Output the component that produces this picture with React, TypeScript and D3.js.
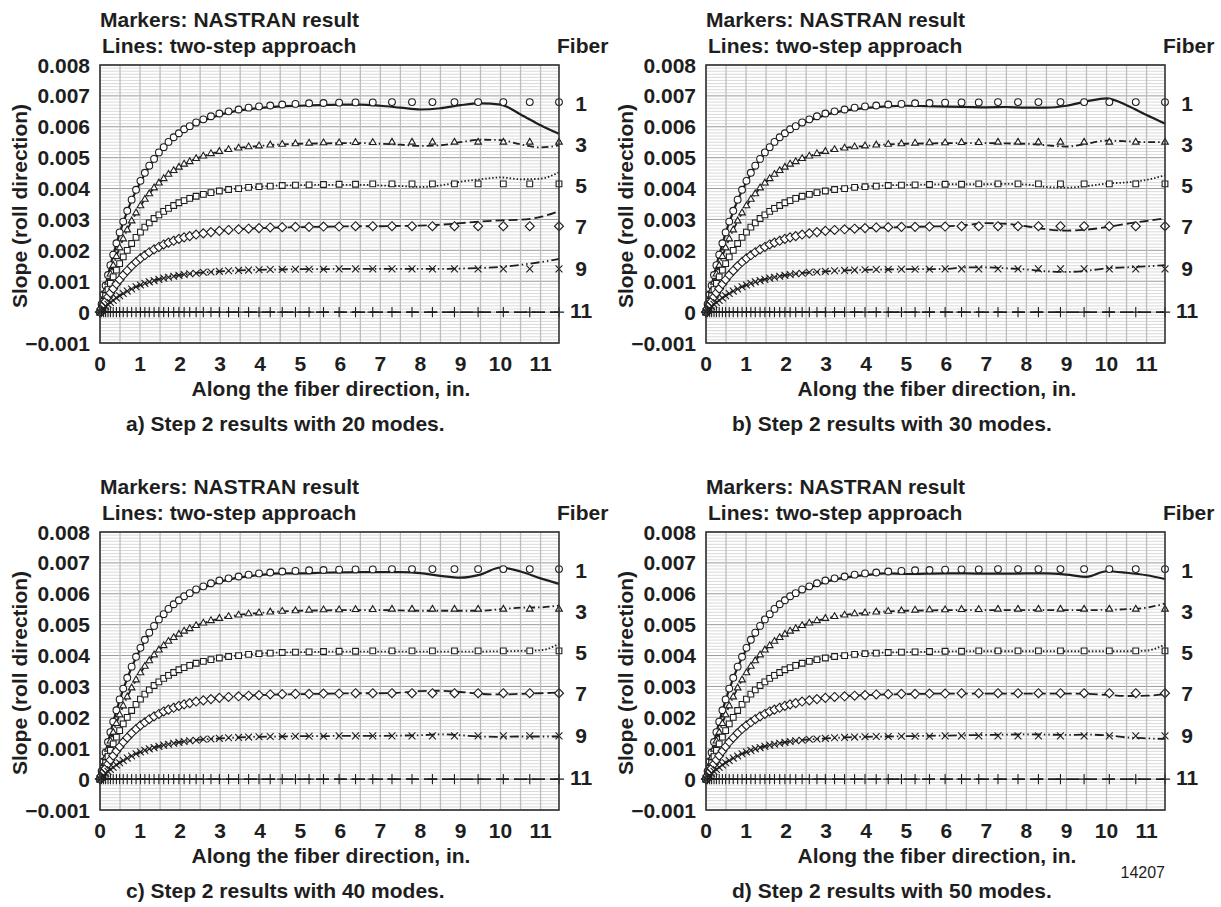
import React from "react";
import * as d3 from "d3";

const W = 1221;
const H = 907;

// NASTRAN node positions along the fiber, in.
const NASTRAN_X = [
  0, 0.04, 0.09, 0.14, 0.2, 0.26, 0.33, 0.41, 0.49, 0.58,
  0.68, 0.79, 0.9, 1.01, 1.12, 1.23, 1.35, 1.47, 1.59, 1.71,
  1.84, 1.97, 2.1, 2.24, 2.4, 2.58, 2.77, 2.98, 3.21, 3.46,
  3.71, 3.97, 4.25, 4.55, 4.88, 5.22, 5.58, 5.97, 6.38, 6.81,
  7.29, 7.79, 8.3, 8.85, 9.44, 10.07, 10.73, 11.46,
];

// NASTRAN slope per fiber (units of 0.001)
const NASTRAN_F1 = [
  0, 0.26, 0.57, 0.86, 1.2, 1.52, 1.86, 2.23, 2.58, 2.93,
  3.28, 3.64, 3.96, 4.25, 4.51, 4.74, 4.96, 5.17, 5.34, 5.51,
  5.66, 5.79, 5.92, 6.02, 6.14, 6.24, 6.34, 6.43, 6.5, 6.56,
  6.62, 6.66, 6.69, 6.72, 6.74, 6.76, 6.77, 6.78, 6.79, 6.79,
  6.8, 6.8, 6.8, 6.8, 6.8, 6.8, 6.8, 6.8,
];
const NASTRAN_F3 = [
  0, 0.21, 0.46, 0.7, 0.97, 1.23, 1.51, 1.8, 2.08, 2.37,
  2.66, 2.95, 3.21, 3.44, 3.65, 3.83, 4.02, 4.18, 4.32, 4.46,
  4.58, 4.69, 4.79, 4.87, 4.97, 5.05, 5.13, 5.2, 5.26, 5.31,
  5.35, 5.38, 5.41, 5.43, 5.45, 5.47, 5.48, 5.48, 5.49, 5.49,
  5.5, 5.5, 5.5, 5.5, 5.5, 5.5, 5.5, 5.5,
];
const NASTRAN_F5 = [
  0, 0.16, 0.35, 0.53, 0.73, 0.93, 1.14, 1.36, 1.57, 1.79,
  2.0, 2.22, 2.42, 2.59, 2.75, 2.89, 3.03, 3.15, 3.26, 3.36,
  3.45, 3.54, 3.61, 3.68, 3.75, 3.81, 3.87, 3.92, 3.97, 4.0,
  4.04, 4.06, 4.08, 4.1, 4.11, 4.12, 4.13, 4.14, 4.14, 4.15,
  4.15, 4.15, 4.15, 4.15, 4.15, 4.15, 4.15, 4.15,
];
const NASTRAN_F7 = [
  0, 0.11, 0.23, 0.35, 0.49, 0.62, 0.76, 0.91, 1.05, 1.2,
  1.34, 1.49, 1.62, 1.74, 1.84, 1.94, 2.03, 2.11, 2.19, 2.25,
  2.31, 2.37, 2.42, 2.46, 2.51, 2.55, 2.59, 2.63, 2.66, 2.68,
  2.7, 2.72, 2.74, 2.75, 2.76, 2.76, 2.77, 2.77, 2.78, 2.78,
  2.78, 2.78, 2.78, 2.78, 2.78, 2.78, 2.78, 2.78,
];
const NASTRAN_F9 = [
  0, 0.05, 0.12, 0.18, 0.25, 0.31, 0.38, 0.46, 0.53, 0.6,
  0.68, 0.75, 0.82, 0.88, 0.93, 0.98, 1.02, 1.06, 1.1, 1.13,
  1.16, 1.19, 1.22, 1.24, 1.26, 1.29, 1.3, 1.32, 1.34, 1.35,
  1.36, 1.37, 1.38, 1.38, 1.39, 1.39, 1.39, 1.4, 1.4, 1.4,
  1.4, 1.4, 1.4, 1.4, 1.4, 1.4, 1.4, 1.4,
];
const NASTRAN_F11 = [
  0, 0, 0, 0, 0, 0, 0, 0, 0, 0,
  0, 0, 0, 0, 0, 0, 0, 0, 0, 0,
  0, 0, 0, 0, 0, 0, 0, 0, 0, 0,
  0, 0, 0, 0, 0, 0, 0, 0, 0, 0,
  0, 0, 0, 0, 0, 0, 0, 0,
];

// two-step approach: rising part (same in all four panels)
const RISE_X = [0, 0.1, 0.2, 0.3, 0.4, 0.5, 0.6, 0.8, 1.0, 1.2, 1.4, 1.6, 1.8, 2.0, 2.25, 2.5, 2.75, 3.0, 3.5, 4.0, 4.5];
const RISE_F1 = [0, 0.62, 1.19, 1.71, 2.17, 2.6, 2.98, 3.65, 4.19, 4.64, 5.02, 5.32, 5.58, 5.78, 5.99, 6.16, 6.28, 6.39, 6.53, 6.61, 6.66];
const RISE_F3 = [0, 0.51, 0.97, 1.39, 1.77, 2.12, 2.43, 2.97, 3.42, 3.78, 4.09, 4.33, 4.54, 4.71, 4.88, 5.02, 5.12, 5.2, 5.32, 5.38, 5.43];
const RISE_F5 = [0, 0.38, 0.73, 1.05, 1.34, 1.6, 1.83, 2.24, 2.58, 2.86, 3.08, 3.27, 3.43, 3.56, 3.68, 3.78, 3.86, 3.93, 4.01, 4.06, 4.1];
const RISE_F7 = [0, 0.26, 0.49, 0.7, 0.9, 1.07, 1.23, 1.5, 1.73, 1.91, 2.07, 2.19, 2.3, 2.38, 2.47, 2.54, 2.59, 2.63, 2.69, 2.72, 2.74];
const RISE_F9 = [0, 0.13, 0.25, 0.35, 0.45, 0.54, 0.62, 0.76, 0.87, 0.96, 1.04, 1.1, 1.16, 1.2, 1.24, 1.28, 1.3, 1.32, 1.35, 1.37, 1.38];
const RISE_F11 = [0, 0, 0, 0, 0, 0, 0, 0, 0, 0, 0, 0, 0, 0, 0, 0, 0, 0, 0, 0, 0];

// two-step approach: plateau part, one set per mode count
const TAIL_X = [5.0, 5.5, 6.0, 6.5, 7.0, 7.5, 8.0, 8.5, 9.0, 9.5, 10.0, 10.5, 11.0, 11.46];

const TAIL20_F1 = [6.68, 6.7, 6.72, 6.72, 6.68, 6.62, 6.56, 6.6, 6.7, 6.76, 6.72, 6.4, 6.05, 5.77];
const TAIL20_F3 = [5.45, 5.46, 5.47, 5.47, 5.45, 5.42, 5.38, 5.4, 5.5, 5.58, 5.57, 5.43, 5.33, 5.4];
const TAIL20_F5 = [4.11, 4.12, 4.12, 4.12, 4.1, 4.08, 4.05, 4.1, 4.22, 4.3, 4.36, 4.3, 4.32, 4.53];
const TAIL20_F7 = [2.75, 2.76, 2.77, 2.78, 2.78, 2.79, 2.8, 2.83, 2.88, 2.93, 2.97, 2.99, 3.08, 3.27];
const TAIL20_F9 = [1.39, 1.39, 1.4, 1.4, 1.4, 1.4, 1.4, 1.4, 1.41, 1.43, 1.46, 1.53, 1.62, 1.72];

const TAIL30_F1 = [6.68, 6.67, 6.65, 6.64, 6.63, 6.64, 6.62, 6.62, 6.68, 6.82, 6.92, 6.7, 6.38, 6.1];
const TAIL30_F3 = [5.45, 5.46, 5.47, 5.47, 5.47, 5.46, 5.45, 5.4, 5.36, 5.45, 5.55, 5.53, 5.5, 5.5];
const TAIL30_F5 = [4.12, 4.13, 4.14, 4.14, 4.14, 4.15, 4.13, 4.05, 4.03, 4.08, 4.16, 4.2, 4.28, 4.43];
const TAIL30_F7 = [2.75, 2.77, 2.78, 2.82, 2.88, 2.86, 2.78, 2.68, 2.64, 2.67, 2.75, 2.86, 2.95, 3.04];
const TAIL30_F9 = [1.39, 1.39, 1.4, 1.45, 1.45, 1.42, 1.38, 1.32, 1.3, 1.34, 1.42, 1.45, 1.48, 1.52];

const TAIL40_F1 = [6.66, 6.68, 6.69, 6.7, 6.7, 6.7, 6.67, 6.58, 6.52, 6.62, 6.85, 6.72, 6.5, 6.32];
const TAIL40_F3 = [5.45, 5.46, 5.47, 5.47, 5.47, 5.46, 5.45, 5.45, 5.45, 5.45, 5.5, 5.55, 5.56, 5.62];
const TAIL40_F5 = [4.11, 4.12, 4.13, 4.13, 4.13, 4.13, 4.13, 4.13, 4.13, 4.13, 4.14, 4.15, 4.17, 4.38];
const TAIL40_F7 = [2.75, 2.76, 2.77, 2.78, 2.78, 2.8, 2.85, 2.86, 2.82, 2.76, 2.74, 2.76, 2.78, 2.8];
const TAIL40_F9 = [1.39, 1.39, 1.4, 1.4, 1.4, 1.41, 1.42, 1.45, 1.42, 1.38, 1.37, 1.38, 1.38, 1.38];

const TAIL50_F1 = [6.64, 6.65, 6.66, 6.66, 6.65, 6.65, 6.66, 6.66, 6.62, 6.55, 6.73, 6.68, 6.6, 6.48];
const TAIL50_F3 = [5.45, 5.46, 5.47, 5.47, 5.47, 5.47, 5.47, 5.47, 5.47, 5.47, 5.48, 5.5, 5.55, 5.68];
const TAIL50_F5 = [4.11, 4.12, 4.13, 4.14, 4.14, 4.14, 4.14, 4.14, 4.14, 4.14, 4.14, 4.14, 4.16, 4.36];
const TAIL50_F7 = [2.75, 2.76, 2.77, 2.77, 2.77, 2.77, 2.77, 2.77, 2.77, 2.76, 2.73, 2.69, 2.7, 2.75];
const TAIL50_F9 = [1.39, 1.4, 1.41, 1.42, 1.43, 1.44, 1.45, 1.44, 1.43, 1.44, 1.42, 1.35, 1.32, 1.3];

const TAIL_F11 = [0, 0, 0, 0, 0, 0, 0, 0, 0, 0, 0, 0, 0, 0];

const FIBER_LABELS = ["1", "3", "5", "7", "9", "11"];
const X_TICKS = [0, 1, 2, 3, 4, 5, 6, 7, 8, 9, 10, 11];
const Y_TICKS = [-1, 0, 1, 2, 3, 4, 5, 6, 7, 8];
const CAPTIONS = [
  "a) Step 2 results with 20 modes.",
  "b) Step 2 results with 30 modes.",
  "c) Step 2 results with 40 modes.",
  "d) Step 2 results with 50 modes.",
];

const NASTRAN = [NASTRAN_F1, NASTRAN_F3, NASTRAN_F5, NASTRAN_F7, NASTRAN_F9, NASTRAN_F11];
const RISE = [RISE_F1, RISE_F3, RISE_F5, RISE_F7, RISE_F9, RISE_F11];
const TAILS = [
  [TAIL20_F1, TAIL20_F3, TAIL20_F5, TAIL20_F7, TAIL20_F9, TAIL_F11],
  [TAIL30_F1, TAIL30_F3, TAIL30_F5, TAIL30_F7, TAIL30_F9, TAIL_F11],
  [TAIL40_F1, TAIL40_F3, TAIL40_F5, TAIL40_F7, TAIL40_F9, TAIL_F11],
  [TAIL50_F1, TAIL50_F3, TAIL50_F5, TAIL50_F7, TAIL50_F9, TAIL_F11],
];

const ORIGINS = [
  [0, 0],
  [606, 0],
  [0, 467],
  [606, 467],
];

// per fiber styling
const DASHES = [null, "7 3 1.5 3", "1.5 2", "9 4", "9 3 1.5 3 1.5 3", "13 5"];
const SYMBOLS = [d3.symbolCircle, d3.symbolTriangle2, d3.symbolSquare2, d3.symbolDiamond2, d3.symbolTimes, d3.symbolPlus];
const SYMBOL_SIZES = [36, 32, 42, 52, 32, 36];
const LABEL_Y = [103, 144, 185, 226, 268, 310];

const FONT = "'Liberation Sans', Arial, Helvetica, sans-serif";
const INK = "#1e1e1e";

function Panel({ idx }: { idx: number }) {
  const [ox, oy] = ORIGINS[idx];
  const left = 100, right = 559, top = 65, bottom = 343;

  const x = d3.scaleLinear().domain([0, 11.46]).range([left, right]);
  const y = d3.scaleLinear().domain([-1, 8]).range([bottom, top]);

  const line = d3
    .line<[number, number]>()
    .x((d) => x(d[0]))
    .y((d) => y(d[1]))
    .curve(d3.curveMonotoneX);

  const minorY = d3.range(-10, 81).map((v) => v / 10);
  const gridX = d3.range(0, 23).map((v) => v / 2);

  const fmt = (v: number) => (v === 0 ? "0" : v < 0 ? "\u2212" + (-v / 1000).toFixed(3) : (v / 1000).toFixed(3));

  return (
    <g transform={`translate(${ox},${oy})`} fontFamily={FONT} fontWeight="bold" fill={INK}>
      <rect x={left} y={top} width={right - left} height={bottom - top} fill="#fff" />
      {minorY.map((v, i) => (
        <line key={"my" + i} x1={left} x2={right} y1={y(v)} y2={y(v)}
          stroke={i % 10 === 0 ? "#9a9a9a" : "#d0d0d0"} strokeWidth={i % 10 === 0 ? 1 : 0.8} />
      ))}
      {gridX.map((v, i) => (
        <line key={"gx" + i} x1={x(v)} x2={x(v)} y1={top} y2={bottom} stroke="#bdbdbd" strokeWidth={1.3} />
      ))}

      {RISE.map((rise, f) => {
        const pts: [number, number][] = RISE_X.map((xv, i) => [xv, rise[i]] as [number, number]).concat(
          TAIL_X.map((xv, i) => [xv, TAILS[idx][f][i]] as [number, number])
        );
        return (
          <path key={"l" + f} d={line(pts) || ""} fill="none" stroke={INK}
            strokeWidth={f === 0 ? 2.2 : 1.8} strokeDasharray={DASHES[f] || undefined} />
        );
      })}

      {NASTRAN.map((vals, f) => {
        const sym = d3.symbol().type(SYMBOLS[f]).size(SYMBOL_SIZES[f])() || "";
        return (
          <g key={"m" + f}>
            {NASTRAN_X.map((xv, i) => (
              <path key={i} d={sym} transform={`translate(${x(xv)},${y(vals[i])})`}
                fill={f < 4 ? "#fff" : "none"} stroke={INK} strokeWidth={1.1} />
            ))}
          </g>
        );
      })}

      <rect x={left} y={top} width={right - left} height={bottom - top} fill="none" stroke="#333" strokeWidth={1.6} />

      {Y_TICKS.map((v) => (
        <text key={"yt" + v} x={90} y={y(v) + 7.5} textAnchor="end" fontSize={21}>{fmt(v)}</text>
      ))}
      {X_TICKS.map((v) => (
        <text key={"xt" + v} x={x(v)} y={371} textAnchor="middle" fontSize={21}>{v}</text>
      ))}

      <text x={100} y={27} fontSize={21}>Markers: NASTRAN result</text>
      <text x={102} y={53} fontSize={21}>Lines: two-step approach</text>
      <text x={557} y={53} fontSize={21}>Fiber</text>
      {FIBER_LABELS.map((t, i) => (
        <text key={"fl" + t} x={581} y={LABEL_Y[i] + 7.5} textAnchor="middle" fontSize={21}>{t}</text>
      ))}

      <text transform={`translate(27,${(top + bottom) / 2 + 2}) rotate(-90)`} textAnchor="middle" fontSize={21}>
        Slope (roll direction)
      </text>
      <text x={331} y={396} textAnchor="middle" fontSize={21}>Along the fiber direction, in.</text>
      <text x={126} y={431} fontSize={21}>{CAPTIONS[idx]}</text>
    </g>
  );
}

export default function App() {
  return (
    <svg width={W} height={H} style={{ position: "absolute", left: 0, top: 0, background: "#fff" }}>
      <rect width={W} height={H} fill="#fff" />
      {[0, 1, 2, 3].map((i) => (
        <Panel key={i} idx={i} />
      ))}
      <text x={1165} y={878} textAnchor="end" fontSize={16} fontFamily={FONT} fill={INK}>14207</text>
    </svg>
  );
}
